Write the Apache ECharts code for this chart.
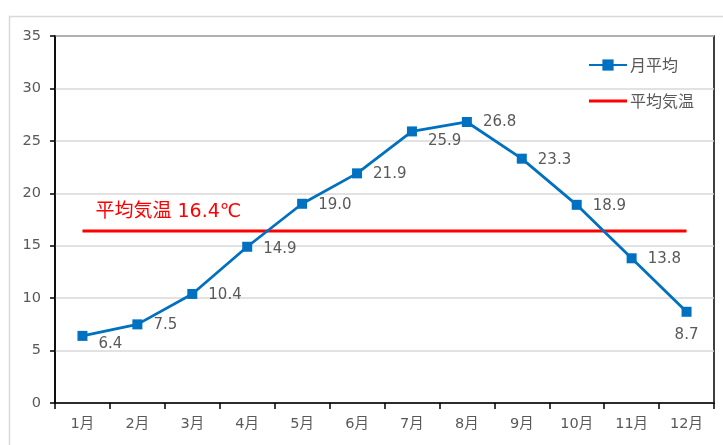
<!DOCTYPE html>
<html>
<head>
<meta charset="utf-8">
<script src="https://cdn.jsdelivr.net/npm/echarts@6/dist/echarts.min.js"></script>
<style>
  html, body { margin: 0; padding: 0; background: #fff; }
  #chart { width: 723px; height: 445px; }
</style>
</head>
<body>
<div id="chart"></div>
<script>
// Monthly mean temperature (°C) and the yearly mean
const months = ['1月', '2月', '3月', '4月', '5月', '6月', '7月', '8月', '9月', '10月', '11月', '12月'];
const monthlyTemps = [6.4, 7.5, 10.4, 14.9, 19.0, 21.9, 25.9, 26.8, 23.3, 18.9, 13.8, 8.7];
const annualMean = 16.4;
const seriesNames = ['月平均', '平均気温'];
const yTicks = { min: 0, max: 35, interval: 5 };

// per-point label placement (position, offset)
const labelPlacement = [
  ['right', [0, 8]], ['right', [0, 1]], ['right', [0, 1]], ['right', [0, 2]],
  ['right', [0, 1]], ['right', [0, 1]], ['right', [0, 10]], ['right', [0, 0]],
  ['right', [0, 1]], ['right', [0, 1]], ['right', [0, 1]], ['bottom', [0, 0]]
];

const font = '"DejaVu Sans", "Noto Sans CJK JP", sans-serif';
const cjkFont = '"Noto Sans CJK JP", sans-serif';
const textGray = '#595959';

const chart = echarts.init(document.getElementById('chart'));
chart.setOption({
  animation: false,
  backgroundColor: '#fff',
  textStyle: { fontFamily: font },
  graphic: [{
    type: 'rect', left: 7, top: 14, silent: true, z: -10,
    shape: { width: 740, height: 460 },
    style: { fill: 'none', stroke: '#d9d9d9', lineWidth: 1.5 }
  }],
  grid: {
    left: 55, top: 36, right: 9, bottom: 42,
    show: true, borderColor: '#000', borderWidth: 1.5, backgroundColor: 'transparent'
  },
  legend: {
    orient: 'vertical', left: 588, top: 57, itemGap: 20, padding: 0,
    itemWidth: 38, itemHeight: 14,
    textStyle: { color: textGray, fontSize: 16, fontFamily: cjkFont, padding: [0, 0, 0, -2] },
    data: [
      seriesNames[0],
      { name: seriesNames[1], icon: 'path://M0,0H40V3.2H0Z' }
    ]
  },
  xAxis: {
    type: 'category', data: months, boundaryGap: true,
    axisLine: { lineStyle: { color: '#000', width: 1.5 } },
    axisTick: { show: true, length: 6, alignWithLabel: false, lineStyle: { color: '#000', width: 1.5 } },
    axisLabel: { color: textGray, fontSize: 14.5, margin: 14, fontFamily: font }
  },
  yAxis: {
    type: 'value', min: yTicks.min, max: yTicks.max, interval: yTicks.interval,
    axisLine: { show: true, lineStyle: { color: '#000', width: 1.5 } },
    axisTick: { show: true, length: 5, lineStyle: { color: '#000', width: 1.5 } },
    axisLabel: { color: textGray, fontSize: 14.5, margin: 14, fontFamily: font },
    splitLine: { lineStyle: { color: '#d9d9d9', width: 1.5 } }
  },
  series: [
    {
      name: seriesNames[0], type: 'line', z: 3,
      data: monthlyTemps.map((v, i) => ({
        value: v,
        label: { position: labelPlacement[i][0], offset: labelPlacement[i][1] }
      })),
      symbol: 'rect', symbolSize: 10,
      itemStyle: { color: '#0070C0' },
      lineStyle: { color: '#0070C0', width: 2.8 },
      label: {
        show: true, color: textGray, fontSize: 15, distance: 11, fontFamily: font,
        formatter: p => p.value.toFixed(1)
      }
    },
    {
      name: seriesNames[1], type: 'line', z: 2,
      data: months.map(() => annualMean),
      symbol: 'none',
      itemStyle: { color: '#FF0000' },
      lineStyle: { color: '#FF0000', width: 3 },
      markPoint: {
        symbol: 'circle', symbolSize: 0,
        data: [{ coord: [months[0], annualMean] }],
        label: {
          show: true, position: [13, -28], color: '#FF0000', fontSize: 19, fontFamily: font,
          formatter: '平均気温 ' + annualMean.toFixed(1) + '℃'
        }
      }
    }
  ]
});
</script>
</body>
</html>
